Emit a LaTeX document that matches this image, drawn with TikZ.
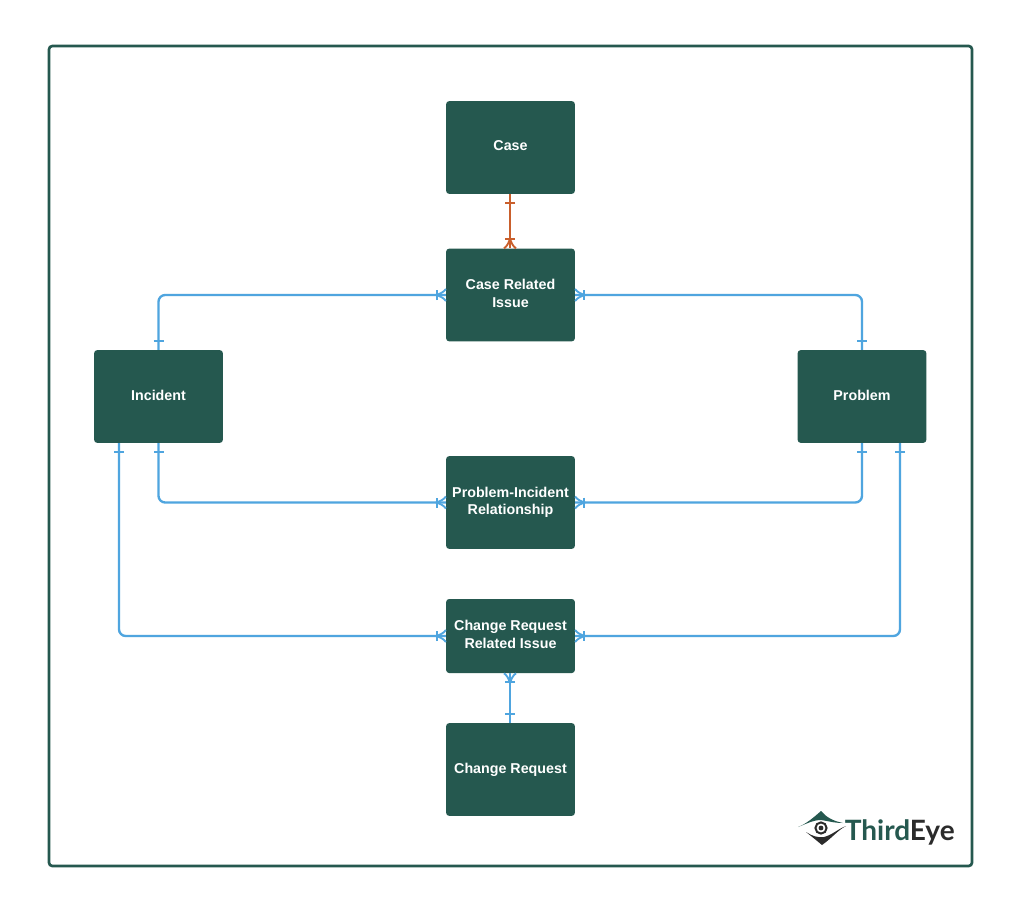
\documentclass[tikz,border=0pt]{standalone}
\usepackage{fontspec}
\setmainfont{Liberation Sans}
\newfontfamily\logofont{Lato}
\usetikzlibrary{calc}
\definecolor{boxgreen}{HTML}{25584F}
\definecolor{linkblue}{HTML}{4FA5DF}
\definecolor{linkorange}{HTML}{C95F2C}
\definecolor{logogrey}{HTML}{2B2B2B}
\tikzset{
  x=0.75pt,y=-0.75pt,
  entity/.style={fill=boxgreen,draw=none,rounded corners=2.2pt,minimum width=96.5pt,inner sep=0pt,
    text=white,font=\bfseries\fontsize{10.7}{12.9}\selectfont,align=center,
    execute at end node={\rule[-2.5pt]{0pt}{2.5pt}}},
  link/.style={draw=linkblue,line width=1.75pt,rounded corners=5pt},
  redlink/.style={link,draw=linkorange},
  mk/.style={draw=linkblue,line width=1.4pt},
  rmk/.style={draw=linkorange,line width=1.4pt},
  onebar/.pic={\draw[line cap=butt,pic actions] (9,-5) -- (9,5);},
  crowfoot/.pic={\draw[line cap=butt,pic actions] (9,-5) -- (9,5);
    \draw[pic actions] (10,0) .. controls (6,-1) and (2,-3) .. (0,-6);
    \draw[pic actions] (10,0) .. controls (6,1) and (2,3) .. (0,6);}
}
\begin{document}
\begin{tikzpicture}
\useasboundingbox (0,0) rectangle (1024,913);
\fill[white] (0,0) rectangle (1024,913);
\draw[draw=boxgreen,line width=2pt,rounded corners=2.5pt] (49,46) rectangle (972,866);
\node[entity,minimum height=69.5pt] (case) at (510.5,147.5) {Case};
\node[entity,minimum height=69.5pt] (cri) at (510.5,295) {Case Related\\Issue};
\node[entity,minimum height=69.5pt] (inc) at (158.5,396.5) {Incident};
\node[entity,minimum height=69.5pt] (prob) at (862,396.5) {Problem};
\node[entity,minimum height=69.5pt] (pir) at (510.5,502.5) {Problem-Incident\\Relationship};
\node[entity,minimum height=55.5pt] (crr) at (510.5,636) {Change Request\\Related Issue};
\node[entity,minimum height=69.5pt] (cr) at (510.5,769.5) {Change Request};
\coordinate (incb) at ($(inc.south)+(-39.5,0)$);
\coordinate (probb) at ($(prob.south)+(38,0)$);
\coordinate (cas) at ($(case.south)+(-0.5,0)$);
\coordinate (crin) at ($(cri.north)+(-0.5,0)$);
\coordinate (crrs) at ($(crr.south)+(-0.5,0)$);
\coordinate (crn) at ($(cr.north)+(-0.5,0)$);
% links
\draw[redlink] (cas) -- (crin);
\draw[link] (inc.north) |- (cri.west);
\draw[link] (prob.north) |- (cri.east);
\draw[link] (inc.south) |- (pir.west);
\draw[link] (prob.south) |- (pir.east);
\draw[link] (incb) |- (crr.west);
\draw[link] (probb) |- (crr.east);
\draw[link] (crrs) -- (crn);
% ends
\path (cas) pic[rotate=-90,rmk] {onebar}
      (crin) pic[rotate=90,rmk] {crowfoot}
      (inc.north) pic[rotate=90,mk] {onebar}
      (prob.north) pic[rotate=90,mk] {onebar}
      (inc.south) pic[rotate=-90,mk] {onebar}
      (prob.south) pic[rotate=-90,mk] {onebar}
      (incb) pic[rotate=-90,mk] {onebar}
      (probb) pic[rotate=-90,mk] {onebar}
      (crn) pic[rotate=90,mk] {onebar}
      (cri.west) pic[rotate=180,mk] {crowfoot}
      (cri.east) pic[mk] {crowfoot}
      (pir.west) pic[rotate=180,mk] {crowfoot}
      (pir.east) pic[mk] {crowfoot}
      (crr.west) pic[rotate=180,mk] {crowfoot}
      (crr.east) pic[mk] {crowfoot}
      (crrs) pic[rotate=-90,mk] {crowfoot};
% logo
\fill[boxgreen] (798,827) .. controls (806,824) and (813,818) .. (821,811)
  .. controls (826,817) and (833,821) .. (843,823)
  .. controls (834,823) and (828,821) .. (821,820)
  .. controls (813,820) and (806,824) .. cycle;
\fill[logogrey] (806,832) .. controls (812,836) and (818,838) .. (824,837)
  .. controls (832,835) and (838,829) .. (846,826)
  .. controls (838,830) and (832,838) .. (822,845)
  .. controls (816,840) and (811,836) .. cycle;
\draw[logogrey,line width=1.5pt] (821,828) circle[radius=5.6];
\fill[logogrey] (821,828) circle[radius=2.4];
\node[anchor=base west,inner sep=0pt,font=\logofont\bfseries\fontsize{21}{21}\selectfont] (logo) at (844.5,840)
  {\textcolor{boxgreen}{Third}\kern-0.3pt\textcolor{logogrey}{Eye}};
\end{tikzpicture}
\end{document}
